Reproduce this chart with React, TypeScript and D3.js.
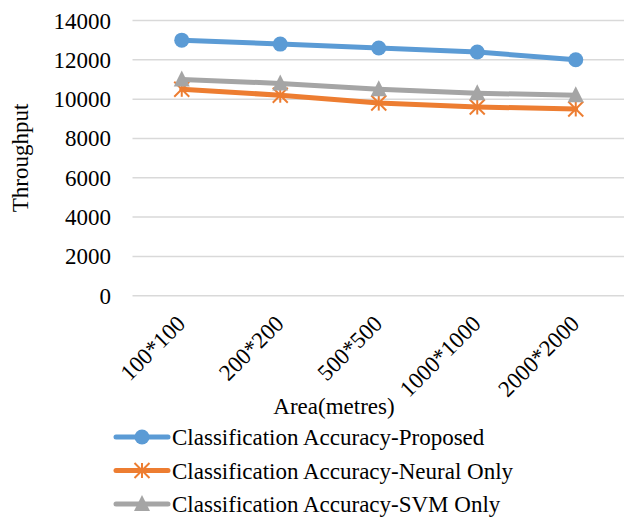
import React from "react";
import * as d3 from "d3";

const categories = ["100*100", "200*200", "500*500", "1000*1000", "2000*2000"];
const proposed = [13000, 12800, 12600, 12400, 12000];
const neural = [10500, 10200, 9800, 9600, 9500];
const svm = [11000, 10800, 10500, 10300, 10200];
const yTicks = [0, 2000, 4000, 6000, 8000, 10000, 12000, 14000];
const seriesNames = [
  "Classification Accuracy-Proposed",
  "Classification Accuracy-Neural Only",
  "Classification Accuracy-SVM Only",
];
const colors = ["#5B9BD5", "#ED7D31", "#A5A5A5"];

const W = 624, H = 519;
const FS = 23;

function Marker({ kind, x, y, color }: { kind: number; x: number; y: number; color: string }) {
  if (kind === 0) return <circle cx={x} cy={y} r={7.5} fill={color} />;
  if (kind === 1) {
    const s = 7.5;
    return (
      <g stroke={color} strokeWidth={2}>
        <line x1={x - s} y1={y - s} x2={x + s} y2={y + s} />
        <line x1={x - s} y1={y + s} x2={x + s} y2={y - s} />
        <line x1={x} y1={y - s} x2={x} y2={y + s} />
      </g>
    );
  }
  const s = 8;
  return <path d={`M${x},${y - s - 1}L${x + s},${y + s - 1}L${x - s},${y + s - 1}Z`} fill={color} />;
}

export default function App() {
  const x = d3.scaleBand<string>().domain(categories).range([132.5, 625]);
  const y = d3.scaleLinear().domain([0, 14000]).range([295.7, 20.5]);
  const cx = (c: string) => (x(c) as number) + x.bandwidth() / 2;
  const all = [proposed, neural, svm];
  const line = d3
    .line<number>()
    .x((_, i) => cx(categories[i]))
    .y((d) => y(d));

  return (
    <svg width={W} height={H} style={{ position: "absolute", left: 0, top: 0, background: "#fff", fontFamily: "Liberation Serif, Tinos, Times New Roman, serif" }}>
      <rect width={W} height={H} fill="#fff" />
      {yTicks.map((t) => (
        <g key={t}>
          <line x1={132.5} x2={624} y1={y(t)} y2={y(t)} stroke="#D9D9D9" strokeWidth={1.5} />
          <text x={111} y={y(t)} dy="0.35em" textAnchor="end" fontSize={FS} fill="#000">
            {t}
          </text>
        </g>
      ))}
      <text transform={`translate(28,158) rotate(-90)`} textAnchor="middle" fontSize={FS} fill="#000">
        Throughput
      </text>
      {categories.map((c) => (
        <text
          key={c}
          transform={`translate(${cx(c) + 5},${325}) rotate(-45)`}
          textAnchor="end"
          fontSize={FS}
          fill="#000"
        >
          {c}
        </text>
      ))}
      <text x={334} y={414} textAnchor="middle" fontSize={FS} fill="#000">
        Area(metres)
      </text>
      {all.map((s, k) => (
        <g key={k}>
          <path d={line(s) || ""} fill="none" stroke={colors[k]} strokeWidth={5} strokeLinejoin="round" strokeLinecap="round" />
          {s.map((v, i) => (
            <Marker key={i} kind={k} x={cx(categories[i])} y={y(v)} color={colors[k]} />
          ))}
        </g>
      ))}
      {seriesNames.map((n, k) => {
        const ly = 437 + k * 33.5;
        return (
          <g key={n}>
            <line x1={116} x2={168} y1={ly} y2={ly} stroke={colors[k]} strokeWidth={5} strokeLinecap="round" />
            <Marker kind={k} x={142} y={ly} color={colors[k]} />
            <text x={172} y={ly} dy="0.35em" fontSize={FS} fill="#000">
              {n}
            </text>
          </g>
        );
      })}
    </svg>
  );
}
